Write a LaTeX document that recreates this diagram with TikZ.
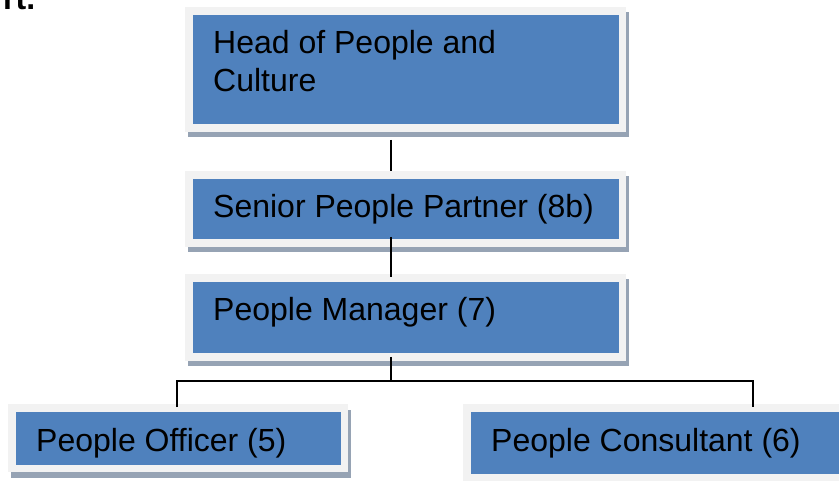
\documentclass[tikz,border=0pt]{standalone}
\usepackage{fontspec}
\setmainfont{Liberation Sans}
\usetikzlibrary{shadows,calc}

\definecolor{boxblue}{RGB}{79,129,189}
\definecolor{framegray}{RGB}{242,242,242}
\definecolor{shadowgray}{RGB}{150,163,180}

\tikzset{
  orgbox/.style={rectangle, anchor=north west, inner sep=0pt, outer sep=0pt,
    fill=framegray, draw=none,
    drop shadow={shadow xshift=3pt, shadow yshift=-5.5pt, fill=shadowgray, opacity=1},
    path picture={\fill[boxblue]
      ([shift={(8pt,-8pt)}]path picture bounding box.north west) rectangle
      ([shift={(-7pt,7.5pt)}]path picture bounding box.south east);}},
  orgtext/.style={anchor=base west, inner sep=0pt, align=left,
    font=\fontsize{32}{38}\selectfont},
  conn/.style={draw=black, line width=1.9pt, line join=miter},
}

\begin{document}
\begin{tikzpicture}[x=1pt, y=-1pt]
  \useasboundingbox (0,0) rectangle (839,481);

  % heading fragment at the upper left
  \node[anchor=base west, inner sep=0pt, font=\fontsize{32}{38}\selectfont\bfseries]
    (title) at (3,10) {rt.};

  % boxes
  \node[orgbox, minimum width=441pt, minimum height=125pt] (head)    at (185,7)   {};
  \node[orgbox, minimum width=441pt, minimum height=76pt]  (senior)  at (185,171) {};
  \node[orgbox, minimum width=441pt, minimum height=87pt]  (manager) at (185,274) {};
  \node[orgbox, minimum width=340pt, minimum height=68pt]  (officer) at (8,404)   {};
  \node[orgbox, minimum width=400pt, minimum height=77pt]  (consult) at (463,404) {};

  % box captions (a two-line caption sits on the baseline of its last line)
  \node[orgtext] (head-text)    at (213,92)  {Head of People and\\Culture};
  \node[orgtext] (senior-text)  at (213,218) {Senior People Partner (8b)};
  \node[orgtext] (manager-text) at (213,321) {People Manager (7)};
  \node[orgtext] (officer-text) at (36,451)  {People Officer (5)};
  \node[orgtext] (consult-text) at (491,451) {People Consultant (6)};

  % reporting lines
  \coordinate (spine) at (391,0);
  \coordinate (bus)   at (391,381);
  \coordinate (busL)  at (177,381);
  \coordinate (busR)  at (753,381);

  \draw[conn] ($(spine |- head.south)+(0,8)$) -- (spine |- senior.north);
  \draw[conn] ($(spine |- senior.south)+(0,-10)$) -- ($(spine |- manager.north)+(0,3)$);
  \draw[conn] ($(spine |- manager.south)+(0,-4)$) -- (bus);
  \draw[conn] ($(busL |- officer.north)+(0,3)$) -- (busL) -- (busR)
              -- ($(busR |- consult.north)+(0,3)$);
\end{tikzpicture}
\end{document}
